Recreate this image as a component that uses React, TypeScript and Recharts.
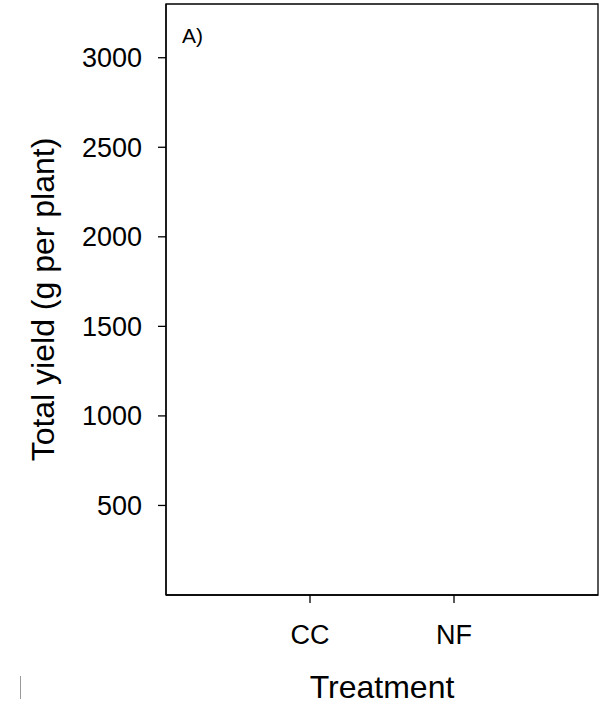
import React from "react";
import {
  ComposedChart,
  Scatter,
  XAxis,
  YAxis,
  ReferenceArea,
} from "recharts";

// treatments on the x axis, and their total yield (nothing plotted in the source panel)
const treatments = ["CC", "NF"];
const treatmentPos = [1, 2];
const totalYield: (number | null)[] = [null, null];
const yTicks = [500, 1000, 1500, 2000, 2500, 3000];

const data = treatments.map((t, i) => ({
  name: t,
  x: treatmentPos[i],
  y: totalYield[i],
}));

const font = "'Liberation Sans', Arial, sans-serif";

// only draw a point when there is a value
const PointShape = (props: any) => {
  if (props.payload?.y == null) return <g />;
  return <circle cx={props.cx} cy={props.cy} r={5} fill="#000" />;
};

export default function App() {
  return (
    <div style={{ position: "fixed", left: 0, top: 0, width: 600, height: 703, background: "#fff" }}>
      <ComposedChart
        width={600}
        height={703}
        data={data}
        margin={{ top: 4, right: 2, bottom: 0, left: 0 }}
        style={{ fontFamily: font }}
      >
        <XAxis
          dataKey="x"
          type="number"
          domain={[0, 3]}
          allowDataOverflow
          ticks={treatmentPos}
          tickFormatter={(v: number) => treatments[v - 1] ?? ""}
          height={108}
          axisLine={{ stroke: "#000", strokeWidth: 1.3 }}
          tickLine={{ stroke: "#000", strokeWidth: 1.3 }}
          tickSize={8}
          tickMargin={22}
          tick={{ fill: "#000", fontSize: 27, fontFamily: font }}
          label={{
            value: "Treatment",
            position: "insideBottom",
            offset: 5,
            style: { fill: "#000", fontSize: 32, fontFamily: font },
          }}
        />
        <YAxis
          dataKey="y"
          type="number"
          domain={[0, 3300]}
          allowDataOverflow
          ticks={yTicks}
          width={166}
          axisLine={{ stroke: "#000", strokeWidth: 1.3 }}
          tickLine={{ stroke: "#000", strokeWidth: 1.3 }}
          tickSize={8}
          tickMargin={16}
          tick={{ fill: "#000", fontSize: 27, fontFamily: font }}
          label={{
            value: "Total yield (g per plant)",
            angle: -90,
            position: "insideLeft",
            offset: 43,
            style: { fill: "#000", fontSize: 32, fontFamily: font, textAnchor: "middle" },
          }}
        />
        <ReferenceArea
          x1={0}
          x2={3}
          y1={0}
          y2={3300}
          ifOverflow="visible"
          fill="none"
          stroke="#000"
          strokeWidth={1.3}
          fillOpacity={0}
          label={(p: any) => (
            <text
              x={p.viewBox.x + 16}
              y={p.viewBox.y + 39}
              fill="#000"
              fontSize={21}
              fontFamily={font}
            >
              A)
            </text>
          )}
        />
        <Scatter dataKey="y" shape={PointShape} isAnimationActive={false} />
      </ComposedChart>
      <div
        style={{
          position: "absolute",
          left: 20,
          top: 676,
          width: 1,
          height: 23,
          background: "#999",
        }}
      />
    </div>
  );
}
